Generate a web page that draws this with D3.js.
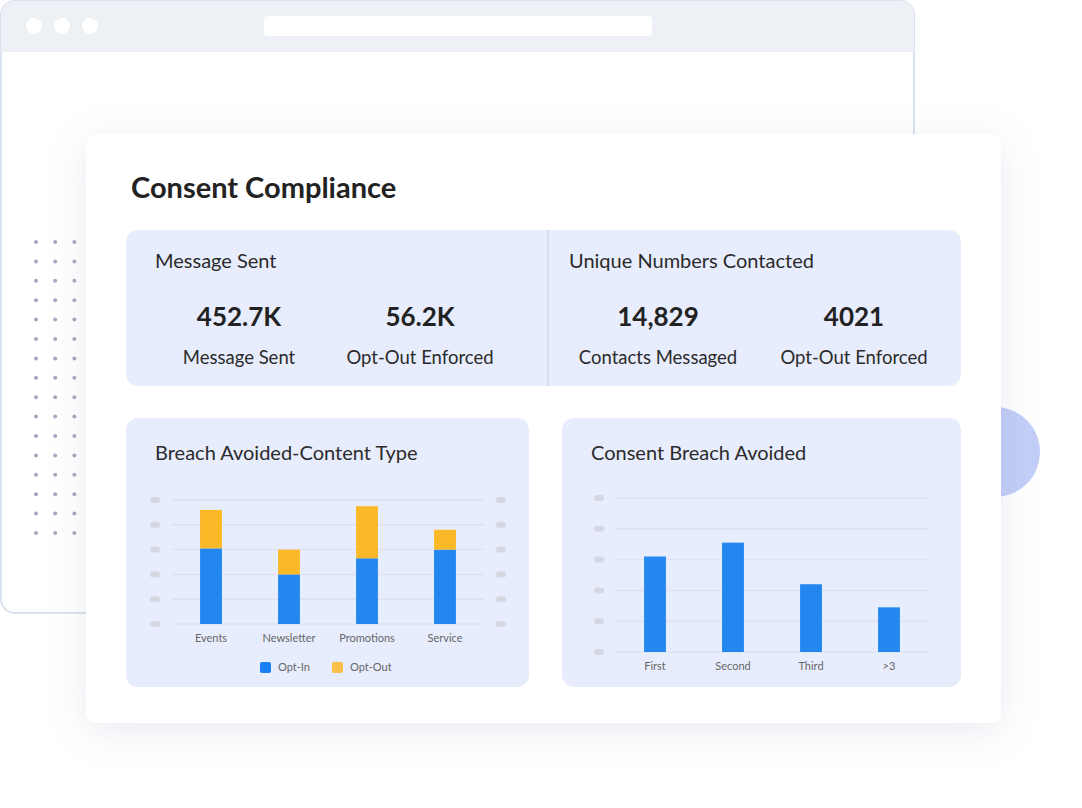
<!DOCTYPE html>
<html><head><meta charset="utf-8">
<script src="https://cdn.jsdelivr.net/npm/d3@7"></script>
<style>body{margin:0;background:#fff;}svg{display:block;font-family:Lato,"Open Sans",sans-serif;}</style>
</head><body><svg id="c" width="1082" height="808"></svg>
<script>
// data
const contentTypes = ["Events", "Newsletter", "Promotions", "Service"];
const optIn = [61, 40, 53, 60];
const optOut = [31, 20, 42, 16];
const breachCats = ["First", "Second", "Third", ">3"];
const breachValues = [62, 71, 44, 29];
const kpiTitles = ["Message Sent", "Unique Numbers Contacted"];
const kpiValues = ["452.7K", "56.2K", "14,829", "4021"];
const kpiLabels = ["Message Sent", "Opt-Out Enforced", "Contacts Messaged", "Opt-Out Enforced"];

const svg = d3.select("#c");
const defs = svg.append("defs");
const f = defs.append("filter").attr("id", "sh").attr("x", "-20%").attr("y", "-20%").attr("width", "140%").attr("height", "140%");
f.append("feDropShadow").attr("dx", 0).attr("dy", 8).attr("stdDeviation", 18).attr("flood-color", "#8090b0").attr("flood-opacity", 0.18);

// browser window behind
svg.append("rect").attr("x", 1).attr("y", 1).attr("width", 913).attr("height", 612).attr("rx", 14)
  .attr("fill", "#fff").attr("stroke", "#d9e2ee").attr("stroke-width", 2);
svg.append("path").attr("d", "M1,15 a14,14 0 0 1 14,-14 h885 a14,14 0 0 1 14,14 v37 h-913 z").attr("fill", "#edf1f6");
[34, 62, 90].forEach(x => svg.append("circle").attr("cx", x).attr("cy", 26).attr("r", 8).attr("fill", "#fff"));
svg.append("rect").attr("x", 264).attr("y", 16).attr("width", 388).attr("height", 20).attr("rx", 4).attr("fill", "#fff");
// dot grid
const dots = svg.append("g").attr("fill", "#a8a6bd");
d3.range(16).forEach(r => d3.range(6).forEach(c =>
  dots.append("circle").attr("cx", 36 + c * 19.2).attr("cy", 242 + r * 19.4).attr("r", 2)));
svg.append("circle").attr("cx", 995).attr("cy", 452).attr("r", 45).attr("fill", "#c2cdf8");

// main card
svg.append("rect").attr("x", 86).attr("y", 134).attr("width", 915).attr("height", 589).attr("rx", 10)
  .attr("fill", "#fff").attr("filter", "url(#sh)");
svg.append("text").attr("x", 131).attr("y", 198).attr("font-size", 29).attr("font-weight", 700).attr("fill", "#222")
  .text("Consent Compliance");

// KPI panel
const panel = "#e8edfd";
svg.append("rect").attr("x", 126).attr("y", 230).attr("width", 835).attr("height", 156).attr("rx", 12).attr("fill", panel);
svg.append("line").attr("x1", 548).attr("x2", 548).attr("y1", 230).attr("y2", 386).attr("stroke", "#c9cfe0");
kpiTitles.forEach((t, i) => svg.append("text").attr("x", i ? 569 : 155).attr("y", 268).attr("font-size", 20).attr("fill", "#2b2b2b").text(t));
const kx = [239, 420, 658, 854];
kpiValues.forEach((v, i) => {
  svg.append("text").attr("x", kx[i]).attr("y", 326).attr("text-anchor", "middle").attr("font-size", 26).attr("font-weight", 700).attr("fill", "#222").text(v);
  svg.append("text").attr("x", kx[i]).attr("y", 364).attr("text-anchor", "middle").attr("font-size", 18.5).attr("fill", "#2b2b2b").text(kpiLabels[i]);
});

function chartPanel(x, title) {
  svg.append("rect").attr("x", x).attr("y", 418).attr("width", x < 300 ? 403 : 399).attr("height", 269).attr("rx", 12).attr("fill", panel);
  svg.append("text").attr("x", x + 29).attr("y", 460).attr("font-size", 20).attr("fill", "#2b2b2b").text(title);
}
function pills(g, xs, ys) {
  xs.forEach(px => ys.forEach(py => g.append("rect").attr("x", px - 5).attr("y", py - 3).attr("width", 10).attr("height", 6).attr("rx", 3).attr("fill", "#d5d8e2")));
}

// left chart: stacked
chartPanel(126, "Breach Avoided-Content Type");
{
  const x = d3.scaleBand().domain(contentTypes).range([172, 484]).paddingInner(0.72).paddingOuter(0.36);
  const y = d3.scaleLinear().domain([0, 100]).range([624, 500]);
  const g = svg.append("g");
  const ticks = y.ticks(4);
  g.selectAll("line.grid").data(ticks).join("line").attr("x1", 172).attr("x2", 484)
    .attr("y1", d => y(d)).attr("y2", d => y(d)).attr("stroke", "#dde1f1").attr("stroke-width", 1.5);
  pills(g, [155, 501], ticks.map(y));
  const stack = d3.stack().keys([0, 1]).value((d, k) => k ? optOut[d] : optIn[d])(d3.range(contentTypes.length));
  const col = ["#2387ef", "#fbb927"];
  stack.forEach((s, k) => g.selectAll(null).data(s).join("rect")
    .attr("x", (d, i) => x(contentTypes[i])).attr("width", x.bandwidth())
    .attr("y", d => y(d[1])).attr("height", d => y(d[0]) - y(d[1])).attr("fill", col[k]));
  g.selectAll("text.xl").data(contentTypes).join("text").attr("x", d => x(d) + x.bandwidth() / 2).attr("y", 642)
    .attr("text-anchor", "middle").attr("font-size", 11).attr("fill", "#666").text(d => d);
  [["Opt-In", 260, "#1a7ff5"], ["Opt-Out", 332, "#fbc04a"]].forEach(([t, lx, c]) => {
    g.append("rect").attr("x", lx).attr("y", 662).attr("width", 11).attr("height", 11).attr("rx", 2).attr("fill", c);
    g.append("text").attr("x", lx + 18).attr("y", 671).attr("font-size", 11).attr("fill", "#666").text(t);
  });
}

// right chart
chartPanel(562, "Consent Breach Avoided");
{
  const x = d3.scaleBand().domain(breachCats).range([616, 928]).paddingInner(0.72).paddingOuter(0.36);
  const y = d3.scaleLinear().domain([0, 100]).range([652, 498]);
  const g = svg.append("g");
  const ticks = y.ticks(5);
  g.selectAll("line").data(ticks).join("line").attr("x1", 616).attr("x2", 928)
    .attr("y1", d => y(d)).attr("y2", d => y(d)).attr("stroke", "#dde1f1").attr("stroke-width", 1.5);
  pills(g, [599], ticks.map(y));
  g.selectAll("rect.b").data(breachValues).join("rect").attr("x", (d, i) => x(breachCats[i])).attr("width", x.bandwidth())
    .attr("y", d => y(d)).attr("height", d => y(0) - y(d)).attr("fill", "#2387ef");
  g.selectAll("text.xl").data(breachCats).join("text").attr("x", d => x(d) + x.bandwidth() / 2).attr("y", 670)
    .attr("text-anchor", "middle").attr("font-size", 11).attr("fill", "#666").text(d => d);
}
</script></body></html>
